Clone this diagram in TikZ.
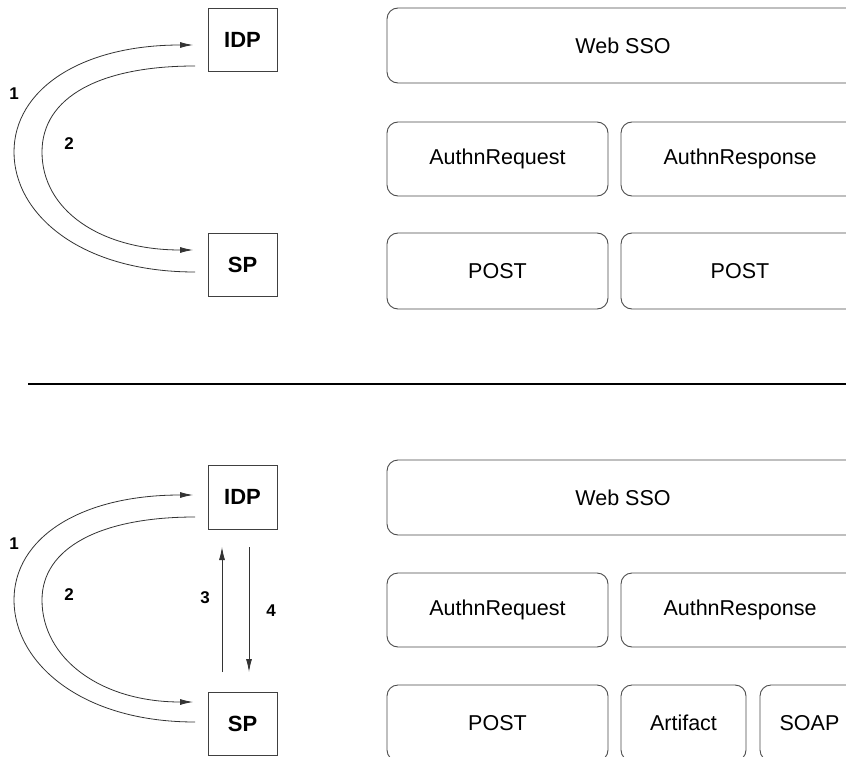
\documentclass[tikz,border=0pt]{standalone}
\usepackage{fontspec}
\setmainfont{Liberation Sans}
\usetikzlibrary{arrows.meta}
\begin{document}
\begin{tikzpicture}[x=1pt,y=-1pt,
  rbox/.style={draw=black!70, line width=0.9pt, rounded corners=11pt, inner sep=0pt,
    font=\fontsize{21.5}{24}\selectfont},
  party/.style={draw=black!75, line width=0.9pt, inner sep=0pt, minimum width=69pt,
    minimum height=63pt, font=\bfseries\fontsize{22}{24}\selectfont},
  num/.style={font=\bfseries\fontsize{17}{20}\selectfont, inner sep=0pt},
  flow/.style={draw=black!80, line width=0.8pt},
  arr/.style={flow, -{Latex[length=13pt,width=6pt]}}]
\clip (0,0) rectangle (846,757);
\fill[white] (0,0) rectangle (846,757);

% ---------- upper half ----------
\node[party] (idpA) at (242.5,39.5) {IDP};
\node[party] (spA) at (242.5,264.5) {SP};

\node[rbox, minimum width=472pt, minimum height=75pt] (ssoA) at (623,45.5) {Web SSO};
\node[rbox, minimum width=221pt, minimum height=74pt] (reqA) at (497.5,159) {AuthnRequest};
\node[rbox, minimum width=238pt, minimum height=74pt] (respA) at (740,159) {AuthnResponse};
\node[rbox, minimum width=221pt, minimum height=76pt] (postA) at (497.5,271) {POST};
\node[rbox, minimum width=238pt, minimum height=76pt] (postB) at (740,271) {POST};

\coordinate (a1s) at (195,272);
\coordinate (a1m) at (14,152);
\coordinate (a1e) at (193,45);
\coordinate (a2s) at (195,66);
\coordinate (a2m) at (42,152);
\coordinate (a2e) at (193,250);
\draw[arr] (a1s) .. controls +(-115,0) and +(0,62) .. (a1m)
                 .. controls +(0,-62) and +(-113,0) .. (a1e);
\draw[arr] (a2s) .. controls +(-95,0) and +(0,-55) .. (a2m)
                 .. controls +(0,58) and +(-93,0) .. (a2e);
\node[num] (n1A) at (14,94) {1};
\node[num] (n2A) at (69,144) {2};

% ---------- separator ----------
\coordinate (sepL) at (28,384);
\coordinate (sepR) at (846,384);
\draw[line width=1.3pt] (sepL) -- (sepR);

% ---------- lower half ----------
\node[party, minimum height=64pt] (idpB) at (242.5,497) {IDP};
\node[party] (spB) at (242.5,723.5) {SP};

\node[rbox, minimum width=472pt, minimum height=75pt] (ssoB) at (623,497.5) {Web SSO};
\node[rbox, minimum width=221pt, minimum height=74pt] (reqB) at (497.5,610) {AuthnRequest};
\node[rbox, minimum width=238pt, minimum height=74pt] (respB) at (740,610) {AuthnResponse};
\node[rbox, minimum width=221pt, minimum height=76pt] (postC) at (497.5,723) {POST};
\node[rbox, minimum width=125pt, minimum height=76pt] (artf) at (683.5,723) {Artifact};
\node[rbox, minimum width=99pt, minimum height=76pt] (soap) at (809.5,723) {SOAP};

\coordinate (b1s) at (195,722);
\coordinate (b1m) at (14,600);
\coordinate (b1e) at (193,495);
\coordinate (b2s) at (195,517);
\coordinate (b2m) at (42,600);
\coordinate (b2e) at (193,702);
\draw[arr] (b1s) .. controls +(-115,0) and +(0,62) .. (b1m)
                 .. controls +(0,-62) and +(-113,0) .. (b1e);
\draw[arr] (b2s) .. controls +(-95,0) and +(0,-52) .. (b2m)
                 .. controls +(0,58) and +(-93,0) .. (b2e);
\node[num] (n1B) at (14,544) {1};
\node[num] (n2B) at (69,595) {2};

\coordinate (u3s) at (222,672);
\coordinate (u3e) at (222,547);
\coordinate (d4s) at (249,547);
\coordinate (d4e) at (249,672);
\draw[arr] (u3s) -- (u3e);
\draw[arr] (d4s) -- (d4e);
\node[num] (n3) at (205,598) {3};
\node[num] (n4) at (271,611) {4};
\end{tikzpicture}
\end{document}
